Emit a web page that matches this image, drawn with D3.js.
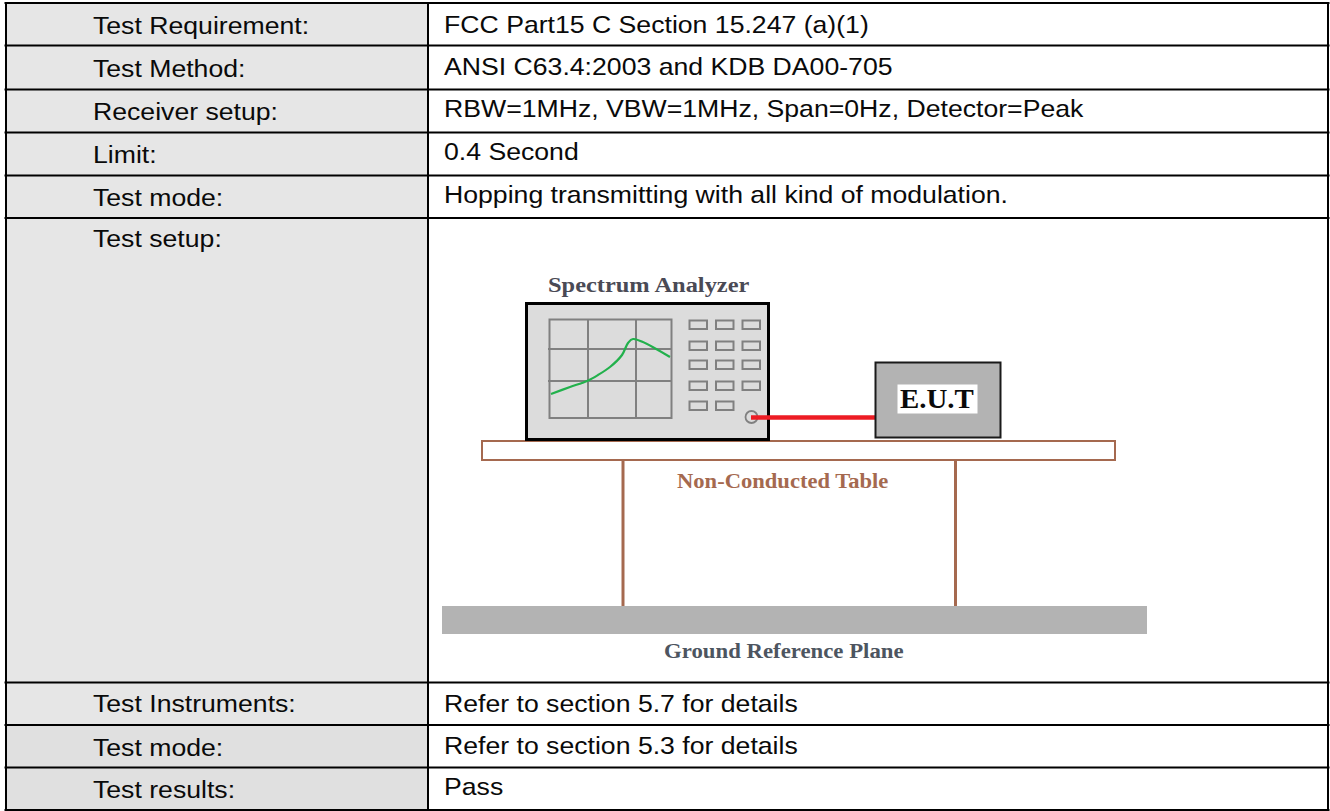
<!DOCTYPE html>
<meta charset="utf-8">
<title>Test setup table</title>
<style>
    html, body { margin: 0; padding: 0; background: #fff; overflow: hidden; }
    svg { display: block; }
    .cell-text { font: 24px "Liberation Sans", Arial, sans-serif; fill: #0a0a0a; }
    .diagram-label { font-family: "Liberation Serif", "Times New Roman", serif; font-weight: bold; }
</style>
<body>
<script src="https://d3js.org/d3.v7.min.js"></script>
<script>
    // table content
    const rowLabels = ["Test Requirement:", "Test Method:", "Receiver setup:", "Limit:", "Test mode:", "Test setup:",
        "Test Instruments:", "Test mode:", "Test results:"];
    const rowValues = ["FCC Part15 C Section 15.247 (a)(1)", "ANSI C63.4:2003 and KDB DA00-705",
        "RBW=1MHz, VBW=1MHz, Span=0Hz, Detector=Peak", "0.4 Second",
        "Hopping transmitting with all kind of modulation.", "",
        "Refer to section 5.7 for details", "Refer to section 5.3 for details", "Pass"];
    const labelFills = ["#e6e6e6", "#e6e6e6", "#e6e6e6", "#e6e6e6", "#e6e6e6", "#e6e6e6", "#e6e6e6", "#e0e0e0", "#e0e0e0"];

    // analyzer trace (x, y in page pixels)
    const traceX = [551, 570, 587, 598, 610, 622, 628, 633, 670];
    const traceY = [394, 387, 381, 375, 367, 355, 343, 339, 357];

    // horizontal rules of the table and text baselines
    const ruleY = [3, 45.5, 89.5, 132.5, 175.5, 218, 682.5, 725, 767.5, 810];
    const labelBase = [34, 77, 120, 163, 206, 247, 712, 756, 798];
    const valueBase = [33, 75, 117, 160, 202.5, 0, 712, 754, 795];

    const W = 1330, H = 811;
    const left = 6, divider = 428, right = 1328;
    const textStretch = 1.11;

    const svg = d3.select("body").append("svg").attr("width", W).attr("height", H);

    const rows = rowLabels.map((label, i) => ({label, value: rowValues[i], fill: labelFills[i], y0: ruleY[i], y1: ruleY[i + 1]}));

    svg.selectAll(".label-cell").data(rows).enter().append("rect")
        .attr("class", "label-cell")
        .attr("x", left).attr("y", d => d.y0)
        .attr("width", divider - left).attr("height", d => d.y1 - d.y0)
        .attr("fill", d => d.fill);

    svg.selectAll(".label-text").data(rows).enter().append("text")
        .attr("class", "cell-text label-text")
        .attr("transform", (d, i) => "translate(93," + labelBase[i] + ") scale(" + textStretch + ",1)")
        .text(d => d.label);

    svg.selectAll(".value-text").data(rows).enter().append("text")
        .attr("class", "cell-text value-text")
        .attr("transform", (d, i) => "translate(444," + valueBase[i] + ") scale(" + textStretch + ",1)")
        .text(d => d.value);

    // the setup drawing
    const fig = svg.append("g");
    const brown = "#a5694f", grey = "#808080";

    // bench
    fig.append("rect").attr("x", 482).attr("y", 441).attr("width", 633).attr("height", 19)
        .attr("fill", "#fff").attr("stroke", brown).attr("stroke-width", 2);
    fig.selectAll(".leg").data([623, 955.5]).enter().append("line")
        .attr("class", "leg")
        .attr("x1", d => d).attr("x2", d => d).attr("y1", 461).attr("y2", 606)
        .attr("stroke", brown).attr("stroke-width", 3);
    fig.append("rect").attr("x", 442).attr("y", 606).attr("width", 705).attr("height", 28).attr("fill", "#b3b3b3");

    // analyzer body
    fig.append("rect").attr("x", 526.5).attr("y", 303.5).attr("width", 242).attr("height", 136)
        .attr("fill", "#dcdcdc").attr("stroke", "#000").attr("stroke-width", 3);

    // screen
    fig.append("rect").attr("x", 549.5).attr("y", 319.5).attr("width", 122).attr("height", 98.5)
        .attr("fill", "none").attr("stroke", grey).attr("stroke-width", 2);
    fig.selectAll(".vgrid").data([588, 636]).enter().append("line")
        .attr("class", "vgrid")
        .attr("x1", d => d).attr("x2", d => d).attr("y1", 319).attr("y2", 418)
        .attr("stroke", grey).attr("stroke-width", 2);
    fig.selectAll(".hgrid").data([349, 381]).enter().append("line")
        .attr("class", "hgrid")
        .attr("x1", 548).attr("x2", 671).attr("y1", d => d).attr("y2", d => d)
        .attr("stroke", grey).attr("stroke-width", 1.8);

    const traceLine = d3.line().x((d, i) => traceX[i]).y((d, i) => traceY[i]).curve(d3.curveCatmullRom);
    fig.append("path").attr("d", traceLine(traceX))
        .attr("fill", "none").attr("stroke", "#22b14c").attr("stroke-width", 2.2);

    // keypad
    const keyX = [689.5, 716, 742.5], keyY = [320.5, 341.5, 360.5, 381.5, 401.5];
    keyY.forEach((y, r) => {
        fig.selectAll(".key" + r).data(r == 4 ? keyX.slice(0, 2) : keyX).enter().append("rect")
            .attr("class", "key" + r)
            .attr("x", d => d).attr("y", y).attr("width", 17.5).attr("height", 8.5)
            .attr("fill", "none").attr("stroke", grey).attr("stroke-width", 2);
    });

    // connector and cable
    fig.append("circle").attr("cx", 751.5).attr("cy", 417).attr("r", 6)
        .attr("fill", "#dcdcdc").attr("stroke", grey).attr("stroke-width", 1.8);
    fig.append("line").attr("x1", 751).attr("x2", 876).attr("y1", 417.5).attr("y2", 417.5)
        .attr("stroke", "#ed1c24").attr("stroke-width", 4.5);

    // E.U.T
    fig.append("rect").attr("x", 875.5).attr("y", 362.5).attr("width", 125).attr("height", 75)
        .attr("fill", "#b3b3b3").attr("stroke", "#1a1a1a").attr("stroke-width", 2);
    fig.append("rect").attr("x", 897.5).attr("y", 384.5).attr("width", 80).attr("height", 29).attr("fill", "#fff");

    const figLabels = ["Spectrum Analyzer", "Non-Conducted Table", "Ground Reference Plane", "E.U.T"];
    const figLabelX = [548, 677, 664, 900];
    const figLabelY = [292, 488, 658, 408];
    const figLabelSize = [22, 21, 21, 27];
    const figLabelWide = [1.11, 1.075, 1.085, 1.07];
    const figLabelFill = ["#4a4a55", brown, "#4d5560", "#0a0a0a"];
    fig.selectAll(".diagram-label").data(figLabels).enter().append("text")
        .attr("class", "diagram-label")
        .attr("transform", (d, i) => "translate(" + figLabelX[i] + "," + figLabelY[i] + ") scale(" + figLabelWide[i] + ",1)")
        .attr("font-size", (d, i) => figLabelSize[i])
        .attr("fill", (d, i) => figLabelFill[i])
        .text(d => d);

    // rules last so they sit over the cell fills
    svg.selectAll(".rule").data(ruleY).enter().append("line")
        .attr("class", "rule")
        .attr("x1", left - 1.5).attr("x2", right + 1.5).attr("y1", d => d).attr("y2", d => d)
        .attr("stroke", "#000").attr("stroke-width", 2);
    svg.selectAll(".col").data([left, divider, right]).enter().append("line")
        .attr("class", "col")
        .attr("x1", d => d).attr("x2", d => d).attr("y1", 2).attr("y2", 811)
        .attr("stroke", "#000").attr("stroke-width", 2);
</script>
</body>
